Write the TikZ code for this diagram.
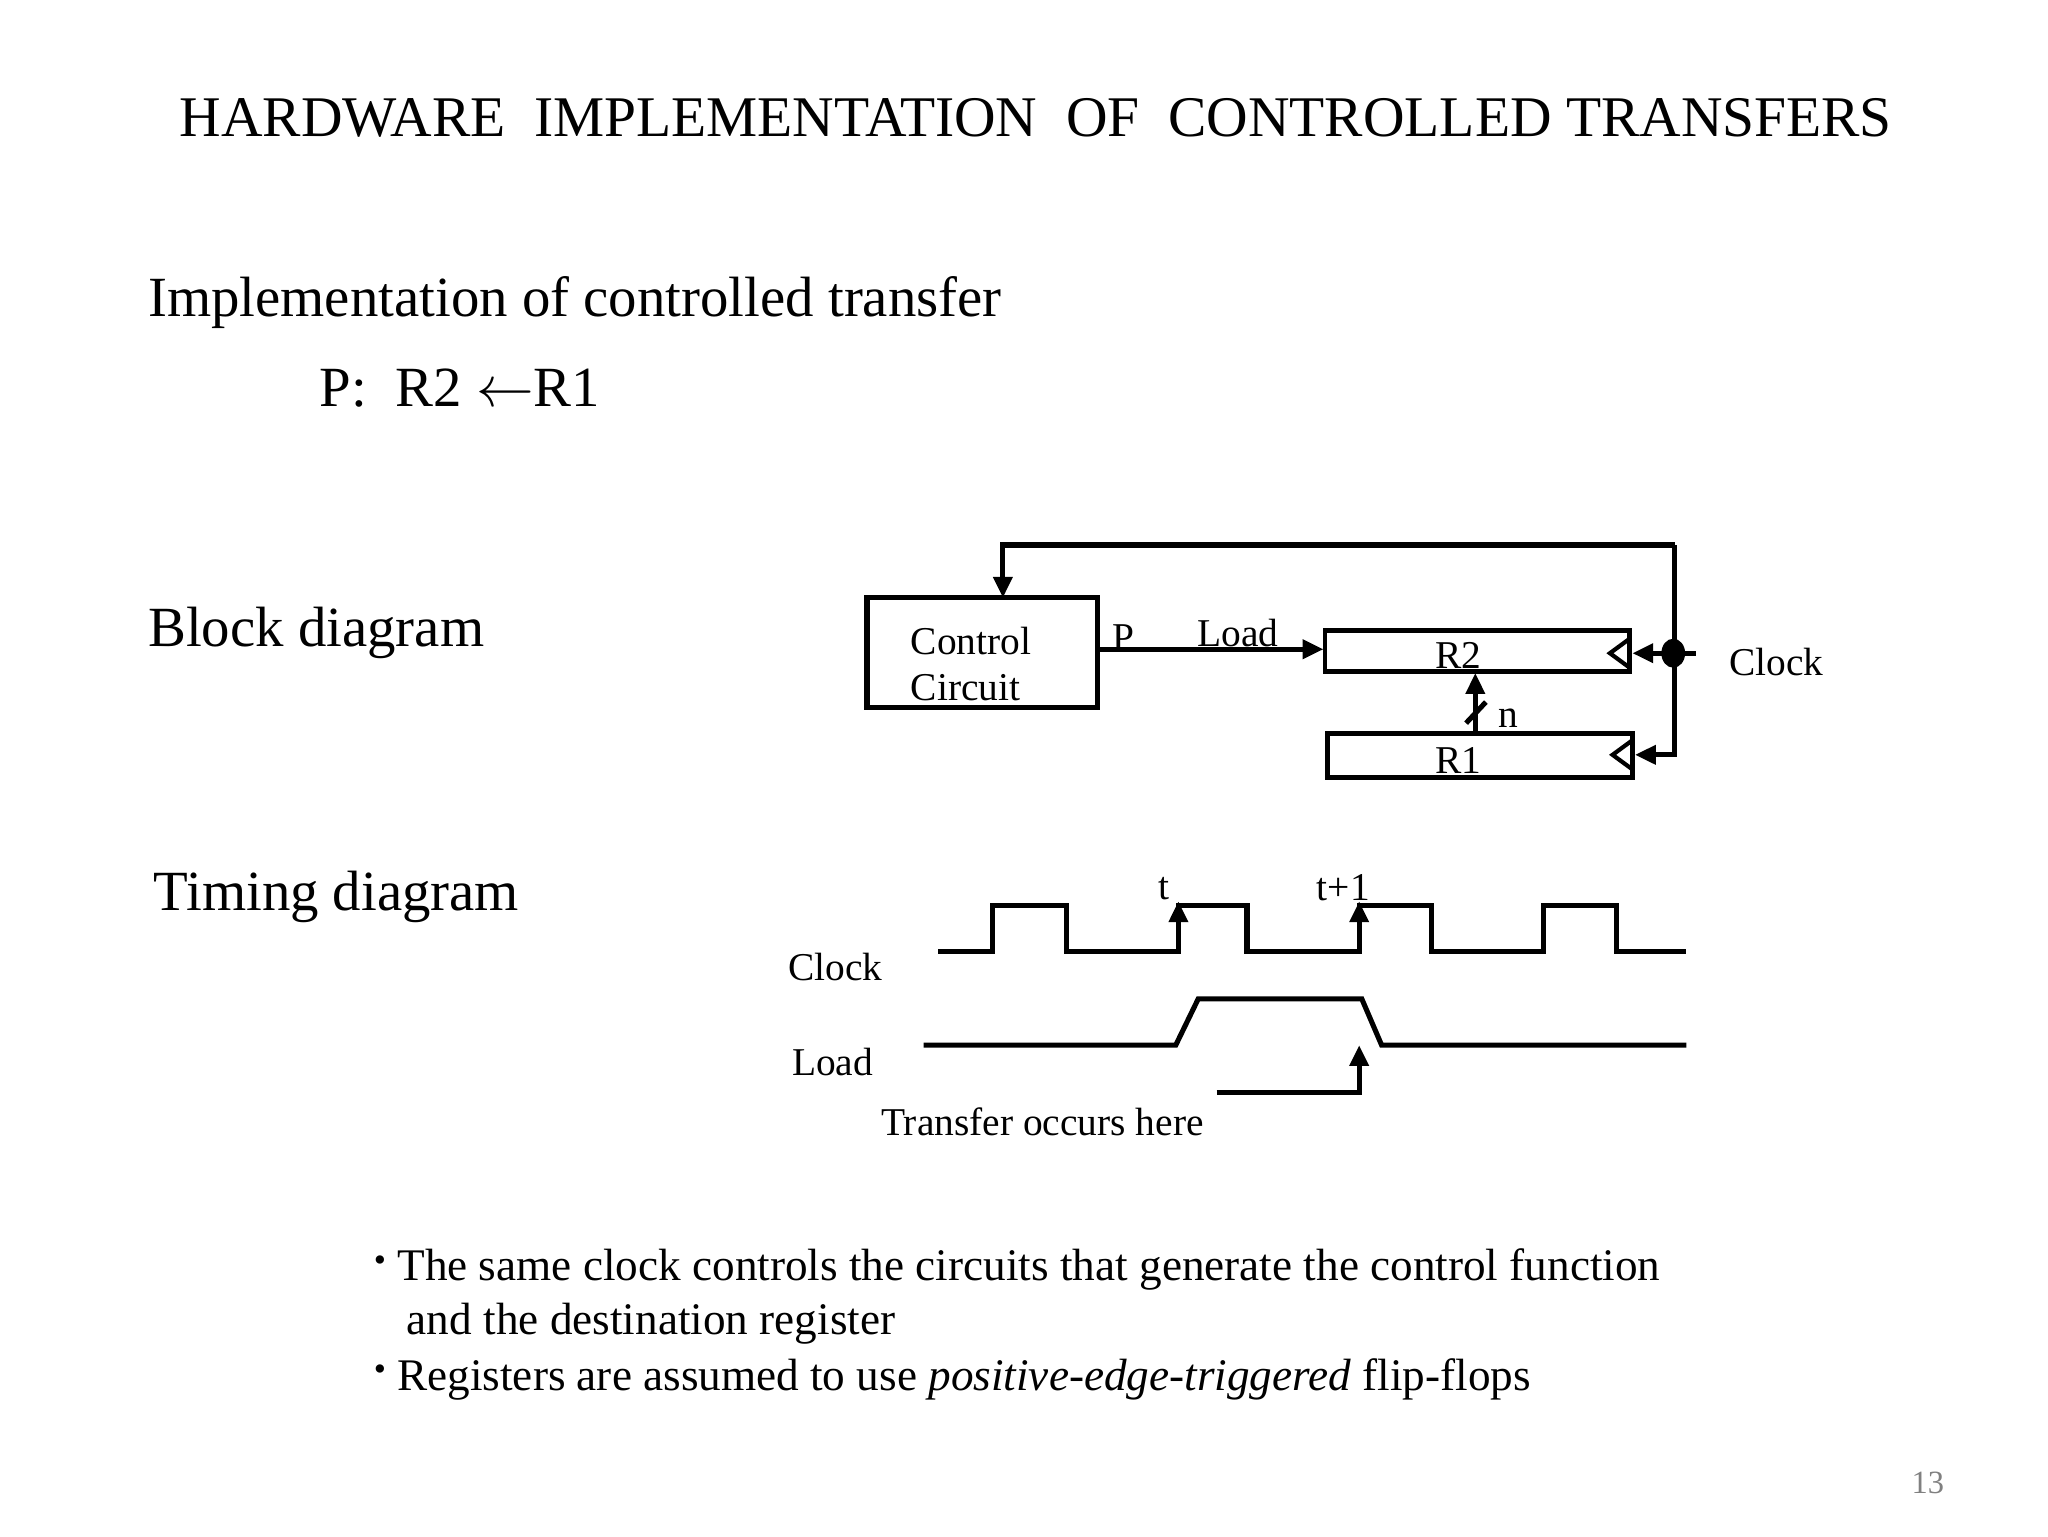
\documentclass[tikz,border=0pt]{standalone}
\usepackage{fontspec}
\setmainfont{Liberation Serif}
\usetikzlibrary{arrows.meta}
\begin{document}
\begin{tikzpicture}[x=0.02cm,y=-0.02cm,
  wire/.style={line width=2.2pt},
  arr/.style={wire,-{Triangle[length=9pt,width=8pt]}},
  big/.style={font=\fontsize{24.5}{28}\selectfont,anchor=west,inner sep=0pt},
  mid/.style={font=\fontsize{17}{20}\selectfont,inner sep=0pt},
  bul/.style={font=\fontsize{19.5}{24}\selectfont,anchor=west,inner sep=0pt}]
\useasboundingbox (0,0) rectangle (1552,1164);
\node[font=\fontsize{24.8}{30}\selectfont,inner sep=0pt] (title) at (785,89) {HARDWARE\ \ IMPLEMENTATION\ \ OF\ \ CONTROLLED TRANSFERS};
\node[big] (impl) at (112,229) {Implementation of controlled transfer};
\node[big] (pr) at (242,294) {P:\ \ R2 ${\leftarrow}$R1};
\node[big] (bd) at (112,480) {Block diagram};
\node[big] (td) at (116,680) {Timing diagram};
% block diagram
\draw[line width=2.2pt] (657,453) rectangle (832,536);
\node[mid,anchor=west] (c1) at (690,486) {Control};
\node[mid,anchor=west] (c2) at (690,521) {Circuit};
\draw[line width=2pt] (1004,478) rectangle (1235,509);
\draw[line width=2pt] (1006,556) rectangle (1237,589);
\node[mid] (r2) at (1105,497) {R2};
\node[mid] (r1) at (1105,576) {R1};
\draw[line width=1.8pt] (1235,484) -- (1220,495) -- (1235,506);
\draw[line width=1.8pt] (1237,561) -- (1222,572) -- (1237,583);
\coordinate (ccin) at (760,453);
\coordinate (ccout) at (832,492);
\coordinate (r2in) at (1003,492);
\coordinate (r2clk) at (1237,495);
\coordinate (r1clk) at (1239,572);
\coordinate (tr) at (1269,413);
\coordinate (dot) at (1268,495);
\draw[arr] (tr) -- (760,413) -- (ccin);
\draw[wire] (tr) -- (1269,572) -- (1250,572);
\draw[arr] (1250,572) -- (r1clk);
\draw[arr] (dot) -- (r2clk);
\draw[wire] (dot) -- (1285,495);
\fill (dot) ellipse (9 and 11);
\node[mid,anchor=west] (clk) at (1310,502) {Clock};
\draw[arr] (ccout) -- (r2in);
\node[mid] (p) at (851,483) {P};
\node[mid] (ld) at (938,480) {Load};
\coordinate (r1top) at (1118,556);
\coordinate (r2bot) at (1118,510);
\draw[arr] (r1top) -- (r2bot);
\draw[wire] (1111,548) -- (1126,532);
\node[mid] (n) at (1143,544) {n};
% timing
\draw[wire] (711,721) -- (752,721) -- (752,686) -- (808,686) -- (808,721) -- (893,721) -- (893,686) -- (945,686) -- (945,721) -- (1030,721) -- (1030,686) -- (1085,686) -- (1085,721) -- (1170,721) -- (1170,686) -- (1225,686) -- (1225,721) -- (1278,721);
\draw[arr] (893,721) -- (893,683);
\draw[arr] (1030,721) -- (1030,683);
\draw[wire] (700,792) -- (891,792) -- (908,757) -- (1032,757) -- (1047,792) -- (1278,792);
\draw[arr] (922,828) -- (1030,828) -- (1030,792);
\node[mid] (t) at (882,673) {t};
\node[mid] (t1) at (1018,673) {t+1};
\node[mid] (tclk) at (633,733) {Clock};
\node[mid] (tld) at (631,805) {Load};
\node[mid] (tro) at (790,850) {Transfer occurs here};
% bullets
\node[bul] (b1) at (283,962) {\raisebox{0.2em}{\fontsize{15}{15}\selectfont\textbullet}\ The same clock controls the circuits that generate the control function};
\node[bul] (b1b) at (308,1003) {and the destination register};
\node[bul] (b2) at (283,1045) {\raisebox{0.2em}{\fontsize{15}{15}\selectfont\textbullet}\ Registers are assumed to use \textit{positive-edge-triggered} flip-flops};
\node[font=\fontsize{14}{16}\selectfont,text=gray,inner sep=0pt] (pg) at (1461,1124) {13};
\end{tikzpicture}
\end{document}
